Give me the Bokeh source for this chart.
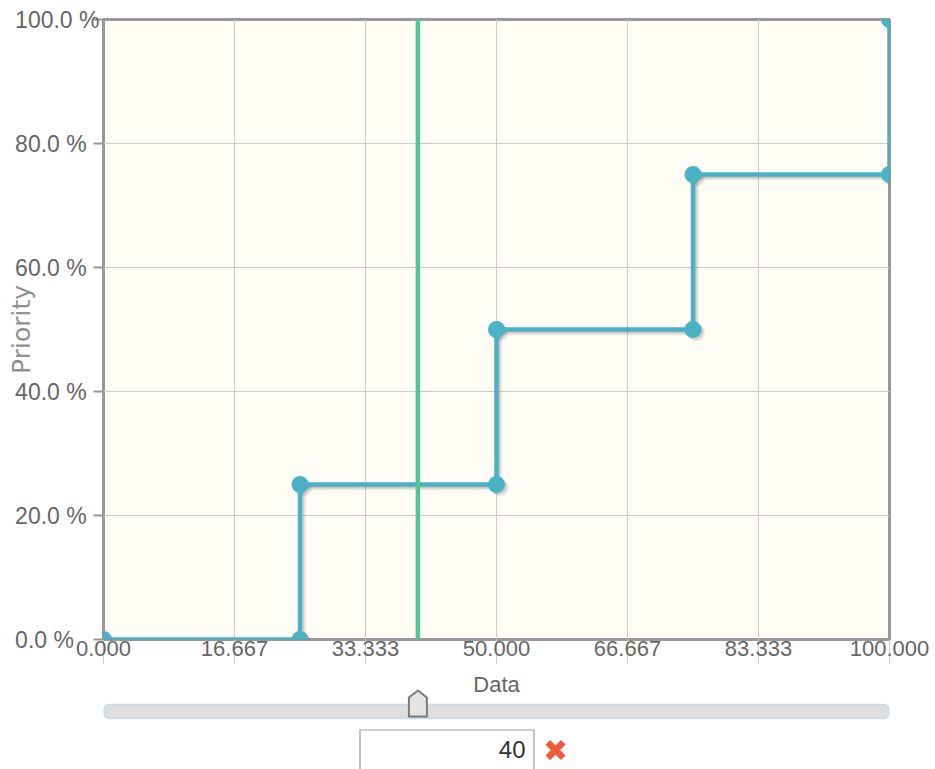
from bokeh.plotting import figure
from bokeh.layouts import column
from bokeh.models import (Range1d, FixedTicker, PrintfTickFormatter, Span)
from bokeh.core.properties import value
from bokeh.embed import file_html
from bokeh.resources import INLINE

# ---- data ----
data_x = [0, 25, 25, 50, 50, 75, 75, 100, 100]
data_y = [0, 0, 25, 25, 50, 50, 75, 75, 100]
cursor_value = 40
x_ticks = [0, 16.667, 33.333, 50, 66.667, 83.333, 100]
y_ticks = [0, 20, 40, 60, 80, 100]
x_title = "Data"
y_title = "Priority"

FONT = "Liberation Sans"
SERIES = "#4bb2c5"
TXT = "#666666"

W = 935
LEFT = 103
RIGHT = W - 889
FRAME_W = W - LEFT - RIGHT
FRAME_H = 620
TOP1, BOT1 = 19, 27
H1 = TOP1 + FRAME_H + BOT1
H2 = 769 - H1

x0, x1 = 0, 100
y0, y1 = 0, 100
px_x = (x1 - x0) / FRAME_W
px_y = (y1 - y0) / FRAME_H

p = figure(width=W, height=H1, x_range=Range1d(x0, x1), y_range=Range1d(y0, y1),
           output_backend="svg", toolbar_location=None,
           min_border_left=LEFT, min_border_right=RIGHT,
           min_border_top=TOP1, min_border_bottom=BOT1)
p.background_fill_color = "#fffdf6"
p.border_fill_color = "white"
p.outline_line_color = "#999999"
p.outline_line_width = 3

# x axis
xa = p.xaxis[0]
xa.ticker = FixedTicker(ticks=x_ticks)
xa.formatter = PrintfTickFormatter(format="%.3f")
xa.major_tick_out = 24
xa.major_tick_in = 0
xa.minor_tick_line_color = None
xa.major_tick_line_color = "#cccccc"
xa.axis_line_color = None
xa.major_label_standoff = -23
xa.major_label_text_font = FONT
xa.major_label_text_font_size = "22px"
xa.major_label_text_color = TXT

# y axis: labels left-aligned, padded on the right with figure spaces
longest = max(len(f"{t:.1f} %") for t in y_ticks)
ya = p.yaxis[0]
ya.ticker = FixedTicker(ticks=y_ticks)
ya.major_label_overrides = {
    t: f"{t:.1f} %" + "\u2007" * (longest - len(f"{t:.1f} %")) for t in y_ticks}
ya.major_tick_out = 10
ya.major_tick_in = 0
ya.minor_tick_line_color = None
ya.major_tick_line_color = "#999999"
ya.major_tick_line_width = 2
ya.axis_line_color = None
ya.major_label_standoff = -6
ya.major_label_text_font = FONT
ya.major_label_text_font_size = "23px"
ya.major_label_text_color = TXT
ya.axis_label = y_title
ya.axis_label_standoff = -24
ya.axis_label_text_font = "DejaVu Sans"
ya.axis_label_text_font_size = "25px"
ya.axis_label_text_font_style = "normal"
ya.axis_label_text_color = "#909090"

p.xgrid.ticker = FixedTicker(ticks=x_ticks)
p.ygrid.ticker = FixedTicker(ticks=y_ticks)
p.xgrid.grid_line_color = "#cccccc"
p.ygrid.grid_line_color = "#cccccc"

# shadows
for k in (1, 2, 3):
    sx = [v + k * 1.2 * px_x for v in data_x]
    sy = [v - k * 1.2 * px_y for v in data_y]
    p.line(sx, sy, line_color="black", line_alpha=0.07, line_width=4.5)
    p.scatter(sx, sy, size=17, fill_color="black", fill_alpha=0.07, line_color=None)

p.line(data_x, data_y, line_color=SERIES, line_width=4.5)
p.scatter(data_x, data_y, size=17, fill_color=SERIES, line_color=None)

p.add_layout(Span(location=cursor_value, dimension="height", line_color="#4ec894",
                  line_width=4.5))

# ---- slider + input panel ----
TOP_PX = H1
BOT_PX = TOP_PX + H2
q = figure(width=W, height=H2, x_range=p.x_range, y_range=Range1d(BOT_PX, TOP_PX),
           output_backend="svg", toolbar_location=None,
           min_border_left=LEFT, min_border_right=RIGHT,
           min_border_top=0, min_border_bottom=0,
           x_axis_location=None, y_axis_location=None)
q.grid.visible = False
q.outline_line_color = None
q.background_fill_color = "white"
q.border_fill_color = "white"


def xd(px):
    return x0 + (px - LEFT) * px_x


q.text(x=[(x0 + x1) / 2], y=[684], text=[x_title], text_align="center",
       text_baseline="middle", text_font=value(FONT), text_font_size="22px",
       text_color=TXT)

# track
q.quad(left=[x0], right=[x1], top=[704], bottom=[718], fill_color="#dedede",
       line_color="#c5dbec", line_width=1.5, border_radius=6)

# handle
hw = 9 * px_x
hx = [cursor_value - hw, cursor_value - hw, cursor_value, cursor_value + hw, cursor_value + hw]
hy = [716, 697, 690, 697, 716]
q.patch(hx, hy, fill_color="#e4e4e4", line_color="#7a7a7a", line_width=2,
        line_join="round")

# input box
q.quad(left=[xd(359.5)], right=[xd(533.5)], top=[729.5], bottom=[800],
       fill_color="white", line_color="#a0a0a0", line_width=1.2)
q.text(x=[xd(525)], y=[749], text=[str(cursor_value)], text_align="right",
       text_baseline="middle", text_font=value(FONT), text_font_size="24px",
       text_color="#333333")
q.text(x=[xd(555)], y=[750], text=["\u2716"], text_align="center",
       text_baseline="middle", text_font=value("DejaVu Sans"), text_font_size="30px",
       text_color="#f35a3b")

layout = column(p, q)
open("out.html", "w").write(file_html(layout, INLINE))
